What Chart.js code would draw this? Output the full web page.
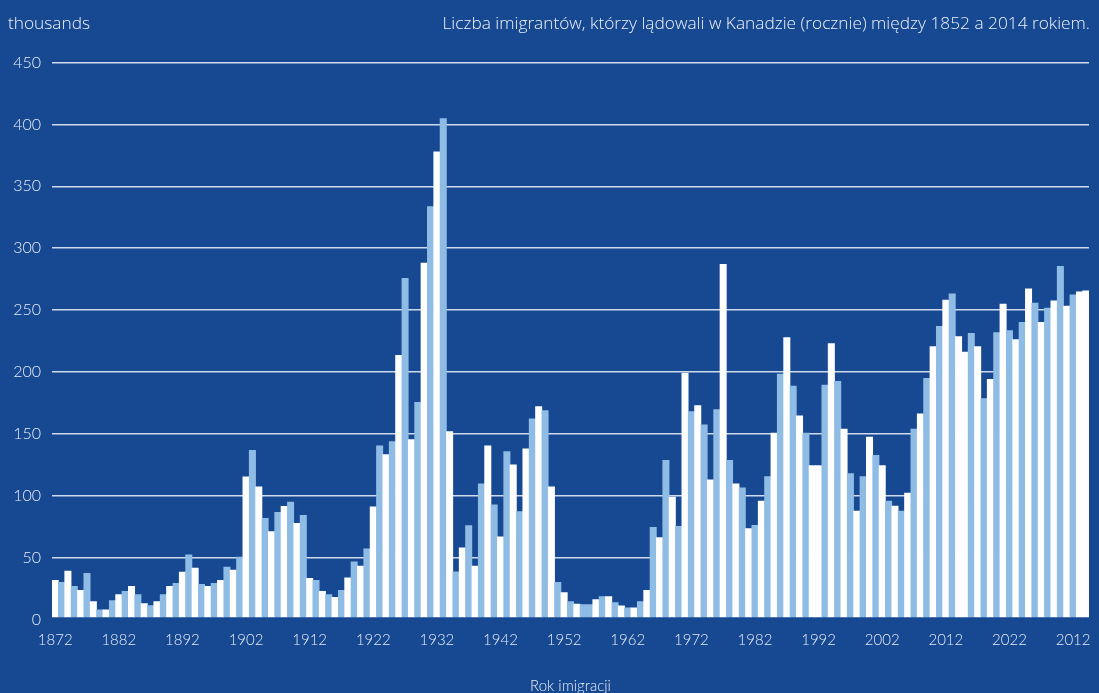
<!DOCTYPE html>
<html>
<head>
<meta charset="utf-8">
<script src="https://cdn.jsdelivr.net/npm/chart.js@4.4.1/dist/chart.umd.min.js"></script>
<style>
  html, body { margin: 0; padding: 0; background: #174892; }
  #wrap { position: relative; width: 1099px; height: 693px; overflow: hidden; background: #174892; }
  .note { position: absolute; font-family: "Open Sans", Lato, sans-serif; font-weight: 300; font-size: 17.3px; color: #eef2fa; white-space: nowrap; }
  #unit { left: 8px; top: 11px; }
  #title { right: 9px; top: 11px; }
</style>
</head>
<body>
<div id="wrap">
  <canvas id="chart" width="1099" height="693"></canvas>
  <div class="note" id="unit">thousands</div>
  <div class="note" id="title">Liczba imigrantów, którzy lądowali w Kanadzie (rocznie) między 1852 a 2014 rokiem.</div>
</div>
<script>
// lata 1852-2014
const years = Array.from({ length: 163 }, (_, i) => String(1852 + i));

// podpisy osi X (co 10 słupków), tak jak na obrazku
const tickLabels = ["1872", "1882", "1892", "1902", "1912", "1922", "1932", "1942", "1952",
  "1962", "1972", "1982", "1992", "2002", "2012", "2022", "2012"];

// imigranci, w tysiącach
const immigrants = [
  31.7, 30.0, 39.1, 26.8, 23.5, 37.4, 14.5, 7.9, 7.9, 15.3,
  20.2, 22.7, 26.8, 20.2, 12.8, 11.2, 14.5, 20.2, 26.8, 29.2,
  38.3, 52.2, 41.5, 28.4, 26.8, 29.2, 31.7, 42.3, 39.9, 50.5,
  115.3, 136.6, 107.1, 81.7, 71.0, 86.6, 91.5, 94.8, 77.6, 84.2,
  33.3, 31.7, 22.7, 20.2, 18.0, 23.6, 33.6, 46.5, 43.2, 57.1,
  91.1, 140.4, 133.3, 143.7, 213.5, 275.7, 145.3, 175.5, 288.0, 333.5,
  377.9, 404.7, 151.9, 38.5, 57.9, 75.8, 43.2, 109.7, 140.4, 92.7,
  66.7, 135.7, 125.0, 87.2, 137.8, 162.1, 172.0, 168.7, 107.2, 30.0,
  21.8, 14.4, 12.4, 12.0, 12.0, 16.1, 18.5, 18.5, 13.6, 11.1,
  9.5, 9.5, 14.4, 23.5, 74.4, 66.2, 128.6, 99.0, 75.2, 199.1,
  168.0, 172.9, 157.2, 112.9, 169.5, 286.9, 128.5, 109.6, 106.3, 73.5,
  76.0, 95.7, 115.4, 150.7, 198.3, 227.8, 188.5, 164.6, 150.7, 124.4,
  124.4, 189.3, 222.9, 192.5, 153.9, 117.8, 87.5, 115.4, 147.3, 132.6,
  124.4, 95.7, 91.6, 87.5, 102.2, 153.9, 166.2, 194.9, 220.4, 236.8,
  258.1, 263.1, 228.6, 216.0, 231.1, 220.4, 178.5, 194.1, 231.9, 254.9,
  233.5, 226.1, 240.0, 267.2, 255.7, 240.0, 251.6, 257.4, 285.3, 253.3,
  262.3, 264.7, 265.6
];

// kolory naprzemiennie; w tych miejscach słupek ma ten sam kolor co poprzedni
const repeatColorAt = [84, 120, 143, 162];
const barColors = ["#ffffff", "#8fbce5"];
const textColor = "#e6ecf6";
const fontFamily = "Lato, 'Open Sans', sans-serif";

function barColor(i) {
  const shift = repeatColorAt.filter(r => r <= i).length;
  return barColors[(i - shift) % 2];
}

new Chart(document.getElementById("chart"), {
  type: "bar",
  data: {
    labels: years,
    datasets: [{
      data: immigrants,
      backgroundColor: immigrants.map((v, i) => barColor(i)),
      borderWidth: 0,
      barPercentage: 1,
      categoryPercentage: 1,
      base: 2
    }]
  },
  options: {
    responsive: false,
    animation: false,
    layout: { padding: { left: 0, right: 10, top: 62.5, bottom: -2 } },
    plugins: { legend: { display: false }, tooltip: { enabled: false } },
    scales: {
      x: {
        grid: { display: false },
        border: { display: false },
        ticks: {
          color: textColor,
          font: { family: fontFamily, size: 15, weight: 300 },
          autoSkip: false,
          maxRotation: 0,
          padding: 3.5,
          callback: (val, i) => (i % 10 === 0 ? tickLabels[i / 10] : "")
        },
        title: {
          display: true,
          text: "Rok imigracji",
          color: textColor,
          font: { family: fontFamily, size: 15, weight: 300 },
          padding: { top: 24.5, bottom: 0 }
        }
      },
      y: {
        min: 0,
        max: 450,
        afterFit: axis => { axis.width = 52; },
        grid: {
          color: ctx => (ctx.tick && ctx.tick.value === 0 ? "rgba(0,0,0,0)" : "rgba(228,234,246,0.9)"),
          lineWidth: 1.5,
          drawTicks: false
        },
        border: { display: false },
        ticks: {
          stepSize: 50,
          color: textColor,
          font: { family: fontFamily, size: 16, weight: 300 },
          padding: 11
        }
      }
    }
  }
});
</script>
</body>
</html>
